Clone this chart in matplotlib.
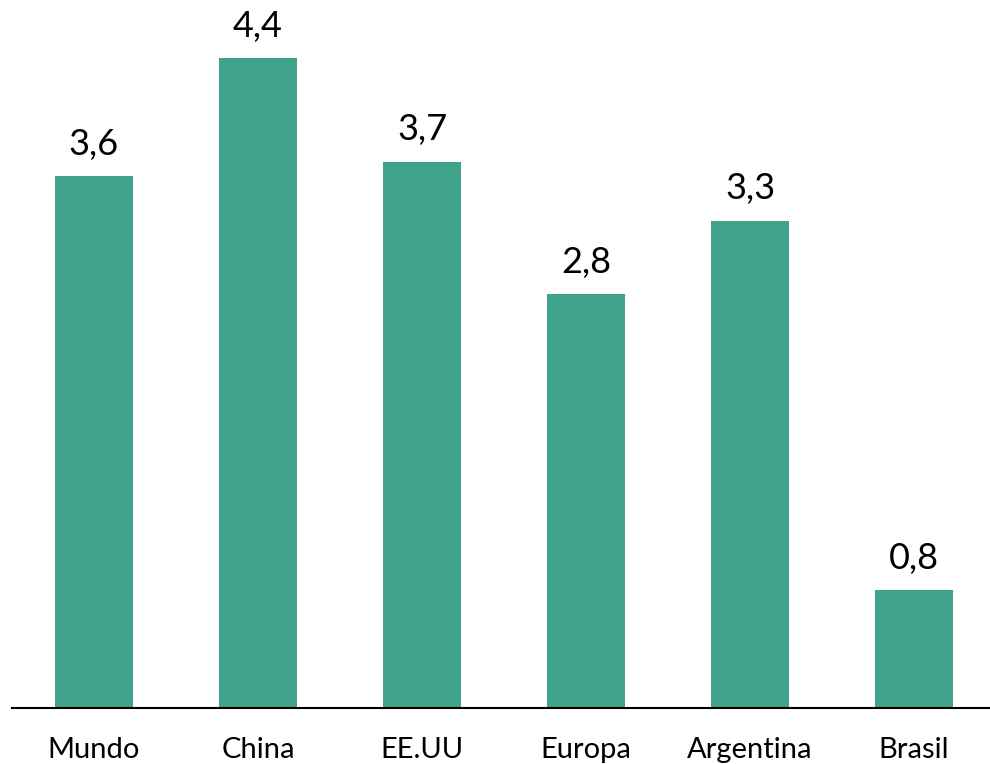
import matplotlib
matplotlib.use('Agg')
import matplotlib.pyplot as plt

plt.rcParams['font.family'] = ['Lato', 'DejaVu Sans']

categories = ['Mundo', 'China', 'EE.UU', 'Europa', 'Argentina', 'Brasil']
values = [3.6, 4.4, 3.7, 2.8, 3.3, 0.8]
value_labels = ['3,6', '4,4', '3,7', '2,8', '3,3', '0,8']

W, H = 990, 764
fig = plt.figure(figsize=(W / 100, H / 100), dpi=100)
ax = fig.add_axes([12 / W, 56 / H, 984 / W, 708 / H])

x = range(len(categories))
bars = ax.bar(x, values, width=0.48, color='#3FA28A')

for b, lab in zip(bars, value_labels):
    ax.annotate(lab, (b.get_x() + b.get_width() / 2, b.get_height()),
                xytext=(0, 11), textcoords='offset points',
                ha='center', va='bottom', fontsize=26, color='black')

ax.set_xlim(-0.5, 5.5)
ax.set_ylim(0, 708 / 147.7)
ax.set_xticks(list(x))
ax.set_xticklabels(categories, fontsize=21)
ax.tick_params(axis='x', length=0, pad=21)
ax.set_yticks([])
for s in ['top', 'right', 'left']:
    ax.spines[s].set_visible(False)
ax.spines['bottom'].set_linewidth(1.5)
ax.spines['bottom'].set_color('black')
ax.patch.set_alpha(0)

fig.savefig('out.png', dpi=100)
